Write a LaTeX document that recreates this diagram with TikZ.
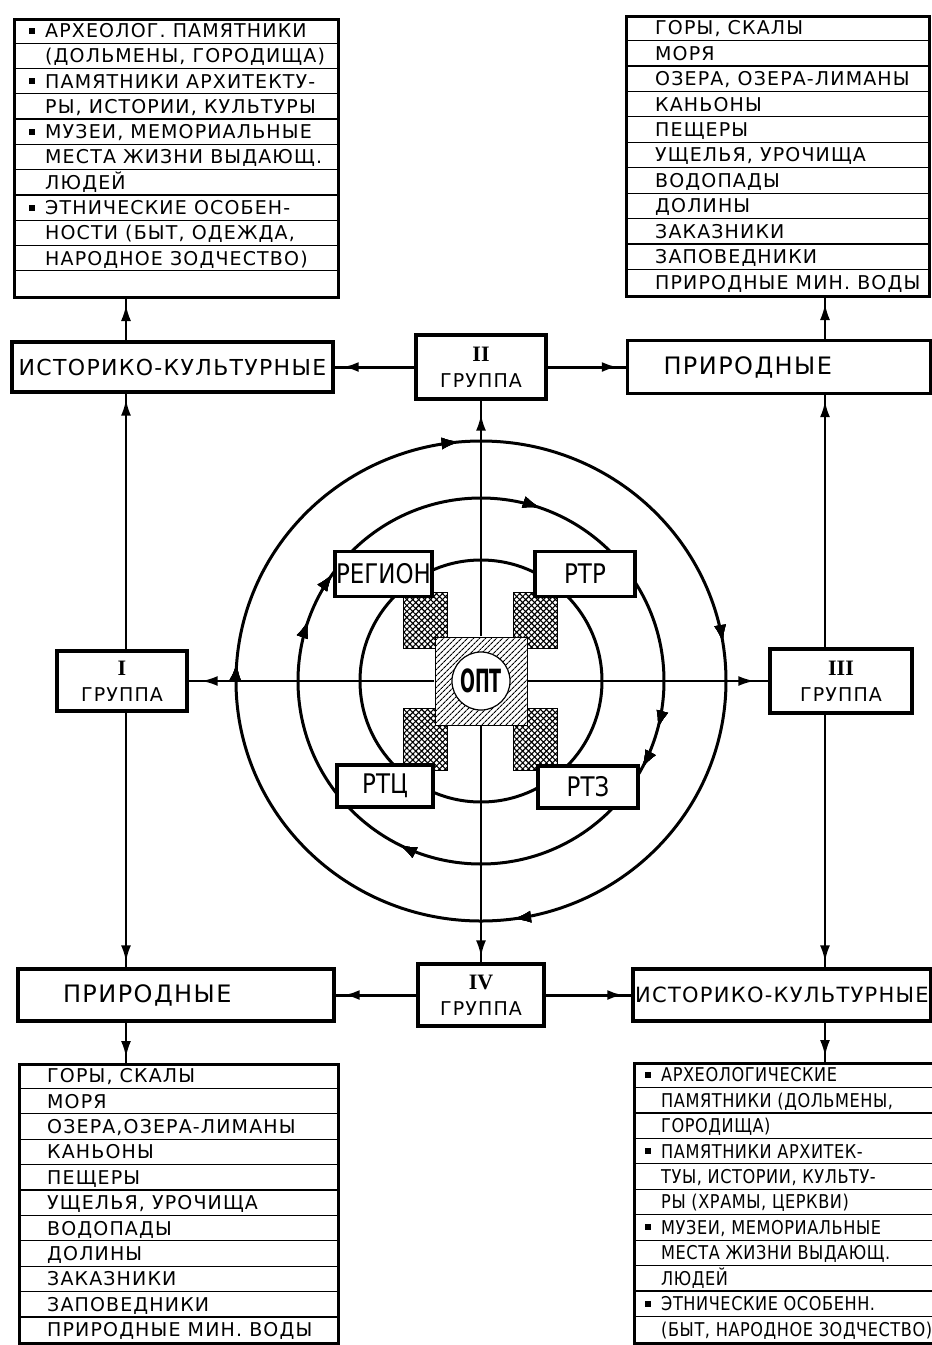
\documentclass[tikz,border=0pt]{standalone}
\usepackage{fontspec}
\setmainfont{DejaVu Sans}
\newfontfamily\tabfont[LetterSpace=6]{DejaVu Sans}
\newfontfamily\brfont[LetterSpace=3, FakeStretch=0.85]{DejaVu Sans}
\newfontfamily\midfont[LetterSpace=6]{DejaVu Sans}
\newfontfamily\regfont[FakeStretch=0.85]{DejaVu Sans}
\newfontfamily\optfont[FakeStretch=0.55]{DejaVu Sans}
\newfontfamily\numfont{Liberation Serif}
\usetikzlibrary{positioning, arrows.meta, decorations.markings, patterns.meta}

\newcommand{\blt}{\llap{\raisebox{4pt}{\rule{6pt}{6pt}}\hspace{10pt}}}

\begin{document}
\begin{tikzpicture}[x=1pt, y=-1pt,
    box/.style={draw, line width=3.4pt, fill=white, inner sep=0pt},
    grp/.style={box, align=center, font=\tabfont\fontsize{19}{26}\selectfont},
    mid/.style={box, font=\midfont\fontsize{22}{26}\selectfont},
    reg/.style={box, line width=3.2pt, font=\regfont\fontsize{27}{30}\selectfont},
    tbl/.style={draw, line width=3pt, anchor=north west, inner sep=0pt},
    rowline/.style={line width=1.3pt},
    row/.style={anchor=base west, inner sep=0pt, font=\tabfont\fontsize{19}{22}\selectfont},
    ring/.style={line width=3pt},
    ringtip/.style={decoration={markings, mark=at position #1 with {\arrow{Latex[length=18pt, width=12pt]}}}, postaction={decorate}},
    xhatch/.style={draw, line width=0.8pt, preaction={fill=white}, pattern={Hatch[angle=45, distance=4.2pt, line width=1.1pt]}},
    link/.style={line width=2pt, postaction={decorate}, decoration={markings, mark=at position -#1 with {\arrow{Latex[length=16pt, width=10pt]}}}},
    link/.default=5pt,
    wide link/.style={link=#1, line width=3pt},
    wide link/.default=8pt,
  ]
  \fill[white] (0,0) rectangle (932,1345);
  \useasboundingbox (0,0) rectangle (932,1345);
  \clip (0,0) rectangle (932,1345);

  \coordinate (ctr) at (481,681);
  \coordinate (colL) at (126,0);
  \coordinate (colR) at (825,0);

  % rings round the centre
  \draw[ring, ringtip=0.225, ringtip=0.479, ringtip=0.762, ringtip=0.986]
    (ctr) ++(-90:245 and 240) arc[start angle=-90, delta angle=360, x radius=245, y radius=240];
  \draw[ring, ringtip=0.053, ringtip=0.292, ringtip=0.329, ringtip=0.574, ringtip=0.804, ringtip=0.85]
    (ctr) ++(-90:183) arc[start angle=-90, delta angle=360, radius=183];
  \draw[ring] (ctr) circle[radius=121];

  % cross-hatched links to the corner boxes
  \draw[xhatch] (403,592) rectangle (447,648);
  \draw[xhatch] (513,592) rectangle (557,648);
  \draw[xhatch] (403,708) rectangle (447,770);
  \draw[xhatch] (513,708) rectangle (557,770);

  % centre
  \node[draw, line width=1pt, minimum width=92pt, minimum height=88pt, preaction={fill=white},
        pattern={Lines[angle=45, distance=4pt, line width=1.2pt]}] (core) at (ctr) {};
  \node[circle, draw, line width=1.2pt, fill=white, minimum size=58pt, inner sep=0pt,
        font=\optfont\bfseries\fontsize{32}{32}\selectfont] (opt) at (ctr) {ОПТ};
  \node[reg, minimum width=97pt, minimum height=45pt] (regn) at (383.5,574) {РЕГИОН};
  \node[reg, minimum width=100pt, minimum height=45pt] (rtr) at (585,574) {РТР};
  \node[reg, minimum width=96pt, minimum height=42pt] (rtc) at (385,786) {РТЦ};
  \node[reg, minimum width=100pt, minimum height=42pt] (rtz) at (588,787) {РТЗ};

  % groups
  \node[grp, minimum width=130pt, minimum height=64pt] (grII) at (481,367) {{\numfont\bfseries\fontsize{22}{26}\selectfont II}\\ГРУППА};
  \node[grp, minimum width=130pt, minimum height=60pt] (grI) at (122,681) {{\numfont\bfseries\fontsize{22}{26}\selectfont I}\\ГРУППА};
  \node[grp, minimum width=142pt, minimum height=64pt] (grIII) at (841,681) {{\numfont\bfseries\fontsize{22}{26}\selectfont III}\\ГРУППА};
  \node[grp, minimum width=126pt, minimum height=62pt] (grIV) at (481,995) {{\numfont\bfseries\fontsize{22}{26}\selectfont IV}\\ГРУППА};

  % kinds of resources
  \node[mid, minimum width=321pt, minimum height=50pt] (istTL) at (172.5,367) {ИСТОРИКО-КУЛЬТУРНЫЕ};
  \node[mid, minimum width=303pt, minimum height=53pt, text width=283pt, align=left,
        font=\midfont\fontsize{24}{26}\selectfont] (priTR) at (779,367) {\hspace*{26pt}ПРИРОДНЫЕ};
  \node[mid, minimum width=316pt, minimum height=52pt, text width=296pt, align=left,
        font=\midfont\fontsize{24}{26}\selectfont] (priBL) at (176,995) {\hspace*{35pt}ПРИРОДНЫЕ};
  \node[mid, minimum width=298pt, minimum height=52pt,
        font=\midfont\fontsize{21}{26}\selectfont] (istBR) at (782,995) {ИСТОРИКО-КУЛЬТУРНЫЕ};

  % table top left
  \node[tbl, minimum width=324pt, minimum height=278pt] (tabTL) at (13,18) {};
  \foreach \k in {1,...,10} \draw[rowline] (13,{18+\k*25.27}) -- (337,{18+\k*25.27});
  \foreach \k/\t in {1/{\blt АРХЕОЛОГ. ПАМЯТНИКИ}, 2/{(ДОЛЬМЕНЫ, ГОРОДИЩА)},
      3/{\blt ПАМЯТНИКИ АРХИТЕКТУ-}, 4/{РЫ, ИСТОРИИ, КУЛЬТУРЫ}, 5/{\blt МУЗЕИ, МЕМОРИАЛЬНЫЕ},
      6/{МЕСТА ЖИЗНИ ВЫДАЮЩ.}, 7/ЛЮДЕЙ, 8/{\blt ЭТНИЧЕСКИЕ ОСОБЕН-},
      9/{НОСТИ (БЫТ, ОДЕЖДА,}, 10/{НАРОДНОЕ ЗОДЧЕСТВО)}}
    \node[row] (tl\k) at (45,{18+(\k-0.5)*25.27+7}) {\t};

  % table top right
  \node[tbl, minimum width=303pt, minimum height=280pt] (tabTR) at (625,15) {};
  \foreach \k in {1,...,10} \draw[rowline] (625,{15+\k*25.45}) -- (928,{15+\k*25.45});
  \foreach \k/\t in {1/{ГОРЫ, СКАЛЫ}, 2/МОРЯ, 3/{ОЗЕРА, ОЗЕРА-ЛИМАНЫ}, 4/КАНЬОНЫ,
      5/ПЕЩЕРЫ, 6/{УЩЕЛЬЯ, УРОЧИЩА}, 7/ВОДОПАДЫ, 8/ДОЛИНЫ, 9/ЗАКАЗНИКИ,
      10/ЗАПОВЕДНИКИ, 11/ПРИРОДНЫЕ МИН. ВОДЫ}
    \node[row] (tr\k) at (655,{15+(\k-0.5)*25.45+7}) {\t};

  % table bottom left
  \node[tbl, minimum width=319pt, minimum height=279pt] (tabBL) at (18,1063) {};
  \foreach \k in {1,...,10} \draw[rowline] (18,{1063+\k*25.4}) -- (337,{1063+\k*25.4});
  \foreach \k/\t in {1/{ГОРЫ, СКАЛЫ}, 2/МОРЯ, 3/{ОЗЕРА,ОЗЕРА-ЛИМАНЫ}, 4/КАНЬОНЫ,
      5/ПЕЩЕРЫ, 6/{УЩЕЛЬЯ, УРОЧИЩА}, 7/ВОДОПАДЫ, 8/ДОЛИНЫ, 9/ЗАКАЗНИКИ,
      10/ЗАПОВЕДНИКИ, 11/ПРИРОДНЫЕ МИН. ВОДЫ}
    \node[row] (bl\k) at (47,{1063+(\k-0.5)*25.4+7}) {\t};

  % table bottom right
  \node[tbl, minimum width=317pt, minimum height=280pt] (tabBR) at (633,1062) {};
  \foreach \k in {1,...,10} \draw[rowline] (633,{1062+\k*25.45}) -- (950,{1062+\k*25.45});
  \foreach \k/\t in {1/{\blt АРХЕОЛОГИЧЕСКИЕ}, 2/{ПАМЯТНИКИ (ДОЛЬМЕНЫ,}, 3/{ГОРОДИЩА)},
      4/{\blt ПАМЯТНИКИ АРХИТЕК-}, 5/{ТУЫ, ИСТОРИИ, КУЛЬТУ-}, 6/{РЫ (ХРАМЫ, ЦЕРКВИ)},
      7/{\blt МУЗЕИ, МЕМОРИАЛЬНЫЕ}, 8/{МЕСТА ЖИЗНИ ВЫДАЮЩ.}, 9/ЛЮДЕЙ,
      10/{\blt ЭТНИЧЕСКИЕ ОСОБЕНН.}, 11/{(БЫТ, НАРОДНОЕ ЗОДЧЕСТВО)}}
    \node[row, font=\brfont\fontsize{19}{22}\selectfont] (br\k) at (661,{1062+(\k-0.5)*25.45+7}) {\t};

  % links from the centre
  \draw[link=14pt] (core) -- (grII);
  \draw[link=6pt] (core) -- (grIV);
  \draw[link=13pt] (core) -- (grI);
  \draw[link=14pt] (core) -- (grIII);

  % links from the groups
  \draw[wide link] (grII) -- (istTL);
  \draw[wide link] (grII) -- (priTR);
  \draw[wide link] (grIV) -- (priBL);
  \draw[wide link] (grIV) -- (istBR);
  \draw[link=6pt] (grI.north -| colL) -- (istTL.south -| colL);
  \draw[link=6pt] (grI.south -| colL) -- (priBL.north -| colL);
  \draw[link=6pt] (grIII.north -| colR) -- (priTR.south -| colR);
  \draw[link=6pt] (grIII.south -| colR) -- (istBR.north -| colR);

  % links to the tables
  \draw[link=6pt] (istTL.north -| colL) -- (tabTL.south -| colL);
  \draw[link=6pt] (priBL.south -| colL) -- (tabBL.north -| colL);
  \draw[link=6pt] (priTR.north -| colR) -- (tabTR.south -| colR);
  \draw[link=6pt] (istBR.south -| colR) -- (tabBR.north -| colR);
\end{tikzpicture}
\end{document}
